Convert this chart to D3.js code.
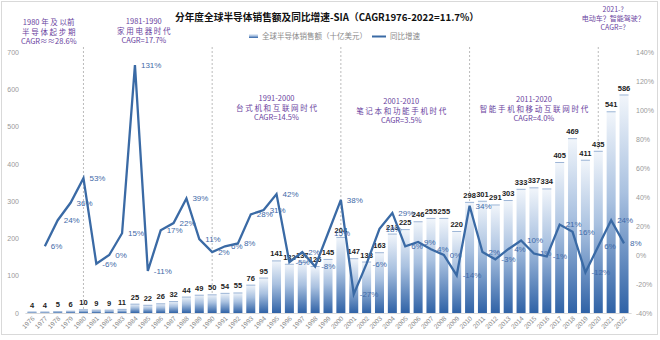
<!DOCTYPE html>
<html><head><meta charset="utf-8">
<script src="https://cdn.jsdelivr.net/npm/d3@7"></script>
<style>
body{margin:0;background:#fff;}
svg{display:block;font-family:"Noto Sans CJK SC","Noto Sans",sans-serif;}
</style></head>
<body><svg id="c" width="660" height="340"></svg>
<script>
const years = ["1976","1977","1978","1979","1980","1981","1982","1983","1984","1985","1986","1987","1988","1989","1990","1991","1992","1993","1994","1995","1996","1997","1998","1999","2000","2001","2002","2003","2004","2005","2006","2007","2008","2009","2010","2011","2012","2013","2014","2015","2016","2017","2018","2019","2020","2021","2022"];
const sales = [4,4,5,6,10,9,9,11,25,22,26,32,44,49,50,54,55,76,95,141,132,137,126,145,204,147,138,163,213,225,246,255,255,220,298,301,291,303,333,337,334,405,469,411,435,541,586];
const growth = [null,6,24,36,53,-6,0,15,131,-11,17,22,39,11,2,6,8,28,31,42,-5,2,-8,15,38,-27,-6,18,29,6,9,4,0,-14,34,2,-3,4,10,1,-1,21,16,-12,6,24,8];
const leftTicks = [0,100,200,300,400,500,600,700];
const rightTicks = [-40,-20,0,20,40,60,80,100,120,140];
const dividerYears = ["1980","1990","2000","2010","2020"];
const periods = [
  {year:"1978", dx:-9, lines:["1980 年 及 以前","半 导 体 起 步 期","CAGR≈≈28.6%"], y:25, lh:9.5, fs:7.5},
  {year:"1985", dx:-4, lines:["1981-1990","家 用 电 器 时 代","CAGR=17.7%"], y:24, lh:9.5, fs:7.5},
  {year:"1995", dx:0, lines:["1991-2000","台 式 机 和 互 联 网 时 代","CAGR=14.5%"], y:101, lh:9.5, fs:7.5},
  {year:"2005", dx:-4, lines:["2001-2010","笔 记 本 和 功 能 手 机 时 代","CAGR=3.5%"], y:104, lh:9.5, fs:7.5},
  {year:"2015", dx:0, lines:["2011-2020","智 能 手 机 和 移 动 互 联 网 时 代","CAGR=4.0%"], y:102, lh:9.5, fs:7.5},
  {year:"2021", dx:2, lines:["2021-?","电动车？智能驾驶？","CAGR=?"], y:12, lh:8.8, fs:7}
];
const titleText = "分年度全球半导体销售额及同比增速-SIA（CAGR1976-2022=11.7%）";
const legendBar = "全球半导体销售额（十亿美元）";
const legendLine = "同比增速";

const svg = d3.select("#c");
const yTop = 52, yBottom = 313;

svg.append("rect").attr("x",1.5).attr("y",1.5).attr("width",656).attr("height",333)
  .attr("fill","none").attr("stroke","#d9d9d9");

const defs = svg.append("defs");
const g = defs.append("linearGradient").attr("id","barGrad").attr("x1",0).attr("y1",0).attr("x2",0).attr("y2",1);
g.append("stop").attr("offset","0%").attr("stop-color","#f2f6fb");
g.append("stop").attr("offset","45%").attr("stop-color","#a9c1e0");
g.append("stop").attr("offset","100%").attr("stop-color","#2f62a6");

const x = d3.scaleBand().domain(years).range([24.9,631.1]).paddingInner(0.3).paddingOuter(0.2);
const yL = d3.scaleLinear().domain([0,700]).range([yBottom,yTop]);
const yR = d3.scaleLinear().domain([-40,140]).range([yBottom,yTop]);
const cx = d => x(d) + x.bandwidth()/2;

svg.append("text").attr("x",327).attr("y",21).attr("text-anchor","middle")
  .attr("font-size",9.7).attr("font-weight","bold").attr("fill","#111").text(titleText);

svg.append("rect").attr("x",249).attr("y",34).attr("width",9).attr("height",4).attr("fill","url(#barGrad)");
svg.append("text").attr("x",262).attr("y",39).attr("font-size",7.5).attr("fill","#8a8a8a").text(legendBar);
svg.append("line").attr("x1",372).attr("x2",386).attr("y1",36.5).attr("y2",36.5).attr("stroke","#3a6aa5").attr("stroke-width",2);
svg.append("text").attr("x",390).attr("y",39).attr("font-size",7.5).attr("fill","#8a8a8a").text(legendLine);

const axL = d3.axisLeft(yL).tickValues(leftTicks).tickSize(0).tickPadding(0);
const gL = svg.append("g").attr("transform","translate(19,0)").call(axL);
gL.select(".domain").remove();
gL.selectAll("text").attr("fill","#999").attr("font-size",7).attr("font-family","Liberation Sans, Arial, sans-serif");

const axR = d3.axisRight(yR).tickValues(rightTicks).tickSize(0).tickPadding(0).tickFormat(d => d + "%");
const gR = svg.append("g").attr("transform","translate(636,0)").call(axR);
gR.select(".domain").remove();
gR.selectAll("text").attr("fill","#999").attr("font-size",7).attr("font-family","Liberation Sans, Arial, sans-serif");

const axB = d3.axisBottom(x).tickSize(0).tickPadding(0);
const gB = svg.append("g").attr("transform",`translate(0,${yBottom})`).call(axB);
gB.select(".domain").attr("stroke","#d9d9d9");
gB.selectAll("text").attr("fill","#888").attr("font-size",6.5).attr("font-family","Liberation Sans, Arial, sans-serif")
  .attr("text-anchor","end").attr("dy","0").attr("transform","translate(3,6) rotate(-45)");

svg.append("g").selectAll("line").data(dividerYears).join("line")
  .attr("x1",d=>cx(d)).attr("x2",d=>cx(d)).attr("y1",47).attr("y2",yBottom)
  .attr("stroke","#aaa").attr("stroke-width",0.8).attr("stroke-dasharray","2,2");

const data = years.map((y,i)=>({year:y, v:sales[i], gr:growth[i]}));
svg.append("g").selectAll("rect").data(data).join("rect")
  .attr("x",d=>x(d.year)).attr("width",x.bandwidth())
  .attr("y",d=>yL(d.v)).attr("height",d=>yBottom-yL(d.v))
  .attr("fill","url(#barGrad)");
svg.append("g").selectAll("line").data(data).join("line")
  .attr("x1",d=>x(d.year)).attr("x2",d=>x(d.year)+x.bandwidth())
  .attr("y1",d=>yL(d.v)+0.5).attr("y2",d=>yL(d.v)+0.5)
  .attr("stroke","#9db5d6").attr("stroke-width",1);

svg.append("g").selectAll("text").data(data).join("text")
  .attr("x",d=>cx(d.year)).attr("y",d=>yL(d.v)-4).attr("text-anchor","middle")
  .attr("font-size",7.5).attr("font-weight","bold").attr("fill","#222")
  .attr("font-family","Liberation Sans, Arial, sans-serif").text(d=>d.v);

const lineData = data.filter(d=>d.gr!==null);
const line = d3.line().x(d=>cx(d.year)).y(d=>yR(d.gr));
svg.append("path").datum(lineData).attr("d",line).attr("fill","none")
  .attr("stroke","#3a6aa5").attr("stroke-width",2.3).attr("stroke-linejoin","miter");

svg.append("g").selectAll("text").data(lineData).join("text")
  .attr("x",d=>cx(d.year)+6).attr("y",d=>yR(d.gr)).attr("dy","0.35em")
  .attr("font-size",8).attr("fill","#3f6aa8")
  .attr("font-family","Liberation Sans, Arial, sans-serif").text(d=>d.gr+"%");

periods.forEach(p=>{
  const t = svg.append("text").attr("text-anchor","middle").attr("fill","#6a3fa0").attr("font-size",p.fs);
  p.lines.forEach((l,i)=>{
    t.append("tspan").attr("x",cx(p.year)+p.dx).attr("y",p.y + i*p.lh).text(l);
  });
});
</script></body></html>
